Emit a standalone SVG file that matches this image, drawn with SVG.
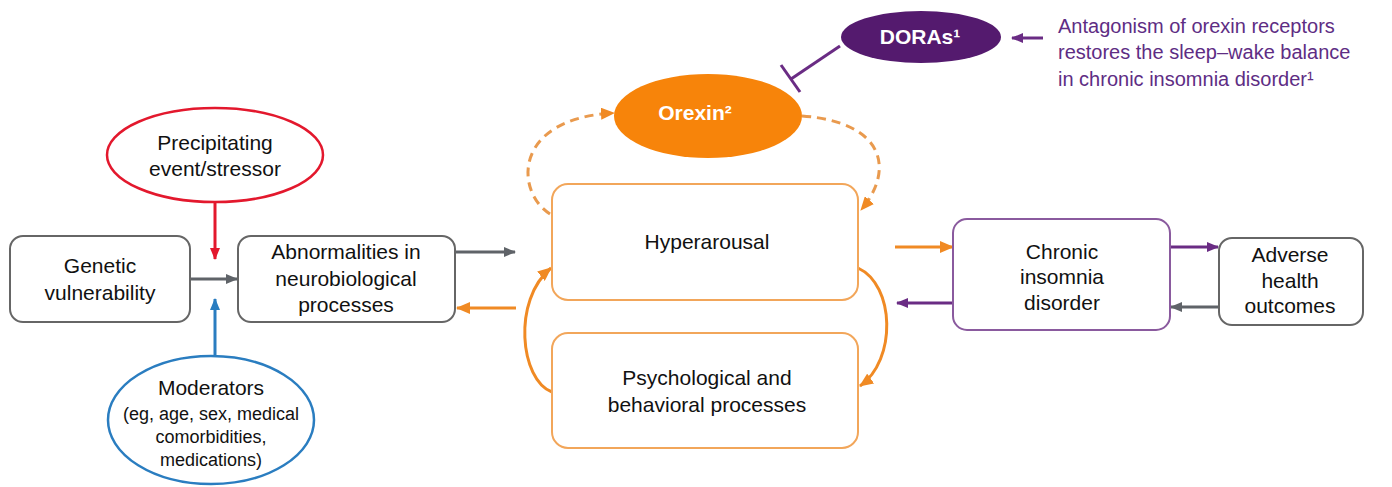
<svg xmlns="http://www.w3.org/2000/svg" width="1392" height="487" viewBox="0 0 1392 487">
<style>
text{font-family:"Liberation Sans",Arial,sans-serif;font-size:21px;fill:#111;text-anchor:middle}
.sm{font-size:18px}
.wb{fill:#fff;font-weight:bold}
.note{fill:#5E2D84;text-anchor:start;font-size:20px}
.gbox{fill:#fff;stroke:#666;stroke-width:2}
.obox{fill:#fff;stroke:#F2A65A;stroke-width:2}
.pbox{fill:#fff;stroke:#8A5A9E;stroke-width:2}
.c{fill:none;stroke-width:3}
.g{stroke:#5F6368}.o{stroke:#F08A24}.p{stroke:#6A2C84}.r{stroke:#E3182D}.b{stroke:#2A7DC0}
.d{stroke:#E99A4E;stroke-dasharray:9 6}
</style>
<defs>
<marker id="ag" markerUnits="userSpaceOnUse" markerWidth="12" markerHeight="10" refX="11" refY="5" orient="auto"><path d="M0,0 L12,5 L0,10 z" fill="#5F6368"/></marker>
<marker id="ao" markerUnits="userSpaceOnUse" markerWidth="14" markerHeight="12" refX="13" refY="6" orient="auto"><path d="M0,0 L14,6 L0,12 z" fill="#F08A24"/></marker>
<marker id="ap" markerUnits="userSpaceOnUse" markerWidth="12" markerHeight="10" refX="11" refY="5" orient="auto"><path d="M0,0 L12,5 L0,10 z" fill="#6A2C84"/></marker>
<marker id="ar" markerUnits="userSpaceOnUse" markerWidth="12" markerHeight="10" refX="11" refY="5" orient="auto"><path d="M0,0 L12,5 L0,10 z" fill="#E3182D"/></marker>
<marker id="ab" markerUnits="userSpaceOnUse" markerWidth="12" markerHeight="10" refX="11" refY="5" orient="auto"><path d="M0,0 L12,5 L0,10 z" fill="#2A7DC0"/></marker>
</defs>

<g id="connectors">
<line class="c g" x1="190" y1="279" x2="237" y2="279" marker-end="url(#ag)"/>
<line class="c r" x1="215" y1="202" x2="215" y2="259" marker-end="url(#ar)"/>
<line class="c b" x1="215" y1="355" x2="215" y2="299" marker-end="url(#ab)"/>
<line class="c g" x1="455" y1="252" x2="515" y2="252" marker-end="url(#ag)"/>
<line class="c o" x1="516" y1="308" x2="457" y2="308" marker-end="url(#ao)"/>
<path class="c o" d="M552,392 C520,380 512,300 551,268" marker-end="url(#ao)"/>
<path class="c o" d="M858,268 C895,285 897,360 860,386" marker-end="url(#ao)"/>
<path class="c o d" d="M550,214 C515,192 512,118 614,113" marker-end="url(#ao)"/>
<path class="c o d" d="M802,116 C885,122 895,170 861,210" marker-end="url(#ao)"/>
<line class="c p" x1="840" y1="46" x2="791" y2="79"/>
<line class="c p" x1="781" y1="65" x2="800" y2="92"/>
<line class="c p" x1="1043" y1="38" x2="1012" y2="38" marker-end="url(#ap)"/>
<line class="c o" x1="895" y1="247" x2="953" y2="247" marker-end="url(#ao)"/>
<line class="c p" x1="953" y1="303" x2="897" y2="303" marker-end="url(#ap)"/>
<line class="c p" x1="1170" y1="247" x2="1218" y2="247" marker-end="url(#ap)"/>
<line class="c g" x1="1219" y1="307" x2="1171" y2="307" marker-end="url(#ag)"/>
</g>

<g id="genetic">
<rect class="gbox" x="10" y="236" width="180" height="86" rx="13"/>
<text x="100" y="273">Genetic</text>
<text x="100" y="300">vulnerability</text>
</g>
<g id="abnormalities">
<rect class="gbox" x="238" y="236" width="217" height="86" rx="13"/>
<text x="346" y="259">Abnormalities in</text>
<text x="346" y="286">neurobiological</text>
<text x="346" y="312">processes</text>
</g>
<g id="precipitating">
<ellipse cx="215" cy="155" rx="108" ry="47" fill="#fff" stroke="#E3182D" stroke-width="2.5"/>
<text x="215" y="150">Precipitating</text>
<text x="215" y="176">event/stressor</text>
</g>
<g id="moderators">
<ellipse cx="211" cy="420" rx="103" ry="64" fill="#fff" stroke="#2A7DC0" stroke-width="2.5"/>
<text x="211" y="395">Moderators</text>
<text class="sm" x="211" y="420">(eg, age, sex, medical</text>
<text class="sm" x="211" y="443">comorbidities,</text>
<text class="sm" x="211" y="466">medications)</text>
</g>
<g id="hyperarousal">
<rect class="obox" x="552" y="184" width="306" height="116" rx="16"/>
<text x="707" y="249">Hyperarousal</text>
</g>
<g id="psychological">
<rect class="obox" x="552" y="333" width="306" height="115" rx="16"/>
<text x="707" y="385">Psychological and</text>
<text x="707" y="412">behavioral processes</text>
</g>
<g id="orexin">
<ellipse cx="708" cy="116" rx="94" ry="42" fill="#F7840A"/>
<text class="wb" x="695" y="120">Orexin²</text>
</g>
<g id="doras">
<ellipse cx="921" cy="37" rx="80" ry="26" fill="#541A6E"/>
<text class="wb" x="920" y="44">DORAs¹</text>
</g>
<g id="note">
<text class="note" x="1058" y="33">Antagonism of orexin receptors</text>
<text class="note" x="1058" y="59">restores the sleep–wake balance</text>
<text class="note" x="1058" y="86">in chronic insomnia disorder¹</text>
</g>
<g id="chronic">
<rect class="pbox" x="953" y="219" width="217" height="111" rx="14"/>
<text x="1062" y="259">Chronic</text>
<text x="1062" y="284">insomnia</text>
<text x="1062" y="310">disorder</text>
</g>
<g id="adverse">
<rect class="gbox" x="1219" y="238" width="144" height="87" rx="13"/>
<text x="1290" y="262">Adverse</text>
<text x="1290" y="288">health</text>
<text x="1290" y="313">outcomes</text>
</g>
</svg>
